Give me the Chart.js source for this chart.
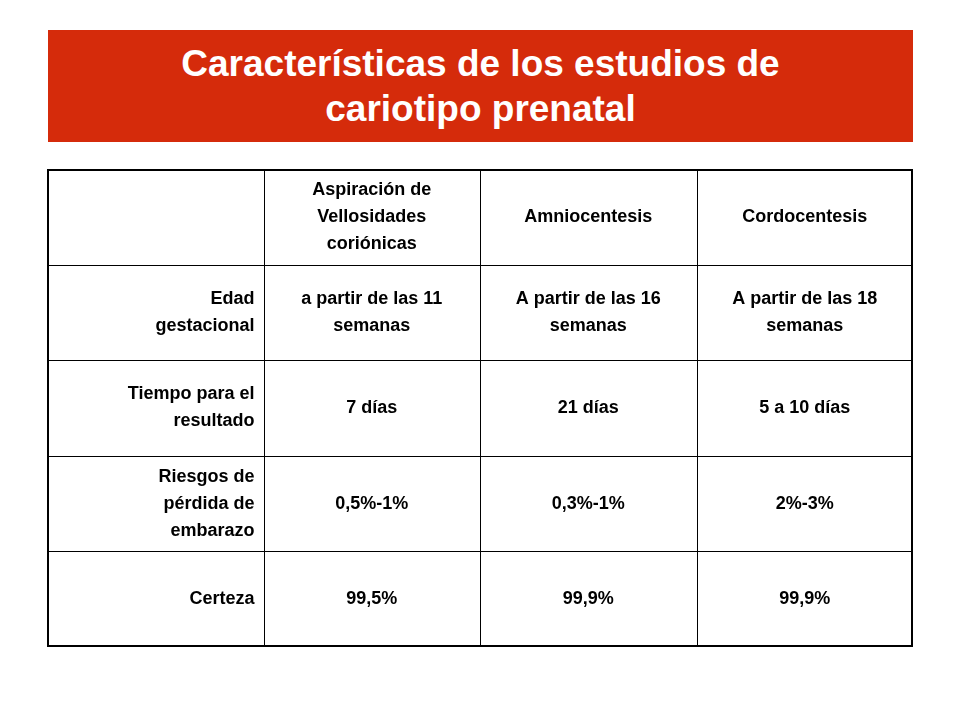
<!DOCTYPE html>
<html><head><meta charset="utf-8">
<script src="https://cdn.jsdelivr.net/npm/chart.js@4"></script>
<style>
body{margin:0;width:960px;height:720px;background:#fff;font-family:"Liberation Sans",Arial,sans-serif;position:relative;overflow:hidden}
#banner{position:absolute;left:48px;top:30px;width:865px;height:112px;background:#d52b0b;color:#fff;font-weight:bold;font-size:37px;line-height:45px;text-align:center;display:flex;align-items:center;justify-content:center}
#wrap{position:absolute;left:47px;top:169px;width:866px;height:478px}
</style></head><body>
<div id="banner"><div>Características de los estudios de<br>cariotipo prenatal</div></div>
<div id="wrap"><canvas id="c"></canvas></div>
<script>
const columns = ["", "Aspiración de\nVellosidades\ncoriónicas", "Amniocentesis", "Cordocentesis"];
const rowLabels = ["header", "Edad\ngestacional", "Tiempo para el\nresultado", "Riesgos de\npérdida de\nembarazo", "Certeza"];
const edad = ["a partir de las 11\nsemanas", "A partir de las 16\nsemanas", "A partir de las 18\nsemanas"];
const tiempo = ["7 días", "21 días", "5 a 10 días"];
const riesgo = ["0,5%-1%", "0,3%-1%", "2%-3%"];
const certeza = ["99,5%", "99,9%", "99,9%"];
const bodyRows = [edad, tiempo, riesgo, certeza];

const tablePlugin = {
  id: 'table',
  afterDraw(chart) {
    const ctx = chart.ctx, xs = chart.scales.x, ys = chart.scales.y;
    const ca = chart.chartArea;
    const xb = [ca.left], yb = [ca.top];
    for (let i = 0; i < columns.length; i++) xb.push(i < columns.length - 1 ? (xs.getPixelForValue(i) + xs.getPixelForValue(i + 1)) / 2 : ca.right);
    for (let j = 0; j < rowLabels.length; j++) yb.push(j < rowLabels.length - 1 ? (ys.getPixelForValue(j) + ys.getPixelForValue(j + 1)) / 2 : ca.bottom);
    ctx.save();
    ctx.strokeStyle = '#000';
    ctx.lineWidth = 1;
    xb.slice(1, -1).forEach(x => { ctx.beginPath(); ctx.moveTo(Math.round(x) + .5, ca.top); ctx.lineTo(Math.round(x) + .5, ca.bottom); ctx.stroke(); });
    yb.slice(1, -1).forEach(y => { ctx.beginPath(); ctx.moveTo(ca.left, Math.round(y) + .5); ctx.lineTo(ca.right, Math.round(y) + .5); ctx.stroke(); });
    ctx.lineWidth = 2;
    ctx.strokeRect(ca.left + 1, ca.top + 1, ca.right - ca.left - 2, ca.bottom - ca.top - 2);
    ctx.fillStyle = '#000';
    ctx.font = 'bold 18px "Liberation Sans", Arial, sans-serif';
    ctx.textBaseline = 'middle';
    const lh = 27;
    function txt(s, x, y, align) {
      const lines = s.split('\n');
      ctx.textAlign = align;
      lines.forEach((l, k) => ctx.fillText(l, x, y + (k - (lines.length - 1) / 2) * lh));
    }
    for (let i = 1; i < columns.length; i++) txt(columns[i], xs.getPixelForValue(i), ys.getPixelForValue(0), 'center');
    for (let j = 1; j < rowLabels.length; j++) {
      txt(rowLabels[j], xb[1] - 9, ys.getPixelForValue(j), 'right');
      bodyRows[j - 1].forEach((v, i) => txt(v, xs.getPixelForValue(i + 1), ys.getPixelForValue(j), 'center'));
    }
    ctx.restore();
  }
};

new Chart(document.getElementById('c'), {
  type: 'scatter',
  data: { labels: columns, datasets: [{ data: [] }] },
  options: {
    responsive: true, maintainAspectRatio: false, animation: false,
    layout: { padding: 0 },
    plugins: { legend: { display: false }, tooltip: { enabled: false } },
    scales: {
      x: { type: 'category', labels: columns, offset: true, display: false },
      y: { type: 'category', labels: rowLabels, offset: true, display: false }
    }
  },
  plugins: [tablePlugin]
});
</script>
</body></html>
